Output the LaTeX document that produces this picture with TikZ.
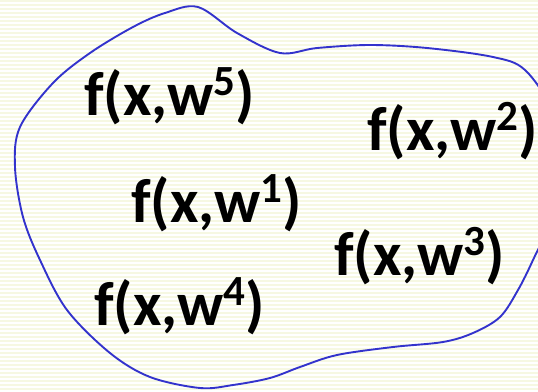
\documentclass[tikz,border=0pt]{standalone}
\usepackage{fontspec}
\setmainfont{Carlito}
\newcommand{\wsup}[1]{\raisebox{20pt}{\fontsize{43}{43}\selectfont\bfseries #1}}
\definecolor{stripecol}{RGB}{246,248,226}
\definecolor{blobcol}{RGB}{51,51,204}

\begin{document}
\begin{tikzpicture}[x=1pt, y=-1pt,
  stripe/.style={fill=stripecol},
  blob/.style={draw=blobcol, line width=1.9pt},
  fx/.style={anchor=base west, inner sep=0pt, font=\fontsize{62}{62}\selectfont\bfseries}]
\useasboundingbox (0,0) rectangle (538,391);
\foreach \y in {0,4,...,388}
  \fill[stripe] (0,\y) rectangle (538,\y+2);
\begin{scope}
\clip (0,0) rectangle (538,391);
\draw[blob] plot[smooth cycle, tension=0.55] coordinates {
  (198,7) (237,33) (280,53) (317,48) (370,45) (427,48) (493,57) (525,70)
  (553,112) (560,160) (553,214) (533,260) (518,290) (500,317) (473,333)
  (443,342) (393,347) (337,355) (300,367) (270,378) (233,385) (200,388)
  (150,377) (110,353) (67,310) (40,260) (23,217) (15,167) (20,127)
  (53,83) (90,53) (133,27) (165,13)};
\end{scope}
\node[fx] (f5) at (84,115) {f(x,w\wsup{5})};
\node[fx] (f2) at (367,150) {f(x,w\wsup{2})};
\node[fx] (f1) at (131,222) {f(x,w\wsup{1})};
\node[fx] (f3) at (334,275) {f(x,w\wsup{3})};
\node[fx] (f4) at (94,325) {f(x,w\wsup{4})};
\end{tikzpicture}
\end{document}
